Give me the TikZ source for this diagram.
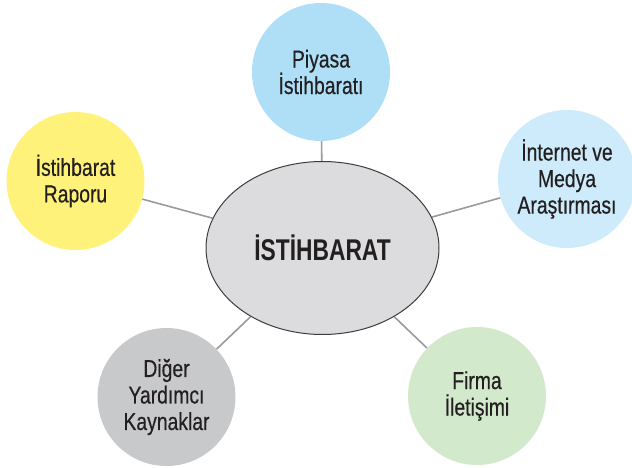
\documentclass[tikz,border=0pt]{standalone}
\usepackage{fontspec}
\setmainfont{Liberation Sans}
\newfontfamily\labelfont[FakeStretch=0.79,FakeBold=0.4]{Liberation Sans}
\newfontfamily\titlefont[FakeStretch=0.76]{Liberation Sans}
\usetikzlibrary{shapes.geometric,backgrounds}

\definecolor{inkdark}{HTML}{231F20}
\definecolor{hubfill}{HTML}{DCDCDE}
\definecolor{hubline}{HTML}{3C3C3C}
\definecolor{linkgray}{HTML}{9A9A9C}
\definecolor{skyblue}{HTML}{AEDFF7}
\definecolor{paleblue}{HTML}{CDEBFA}
\definecolor{sunyellow}{HTML}{FEF27A}
\definecolor{mintgreen}{HTML}{D3E9CB}
\definecolor{stonegray}{HTML}{C8C9CB}

\begin{document}
\begin{tikzpicture}[x=1pt,y=-1pt,
  bubble/.style={circle, minimum size=138pt, inner sep=0pt, align=center,
    text=inkdark, font=\labelfont\fontsize{24.5}{26.5}\selectfont},
  hub/.style={ellipse, draw=hubline, line width=1pt, fill=hubfill,
    minimum width=233pt, minimum height=173pt, inner sep=0pt, text=inkdark,
    font=\titlefont\bfseries\fontsize{30}{34}\selectfont},
  link/.style={draw=linkgray, line width=1.6pt}]
\useasboundingbox (0,0) rectangle (632,468);
\clip (0,0) rectangle (632,468);

% central topic
\node[hub] (hub) at (322.5,248) {İSTİHBARAT};

% surrounding sources
\node[bubble, fill=skyblue]   (piyasa)   at (321,72)    {Piyasa\\İstihbaratı};
\node[bubble, fill=sunyellow] (rapor)    at (75.5,181)  {İstihbarat\\Raporu};
\node[bubble, fill=paleblue]  (internet) at (567,179)   {İnternet ve\\Medya\\Araştırması};
\node[bubble, fill=stonegray] (diger)    at (166.5,397) {Diğer\\Yardımcı\\Kaynaklar};
\node[bubble, fill=mintgreen] (firma)    at (477,396)   {Firma\\İletişimi};

% spokes
\begin{scope}[on background layer]
  \foreach \n in {piyasa,rapor,internet,diger,firma}
    \draw[link] (hub) -- (\n);
\end{scope}
\end{tikzpicture}
\end{document}
